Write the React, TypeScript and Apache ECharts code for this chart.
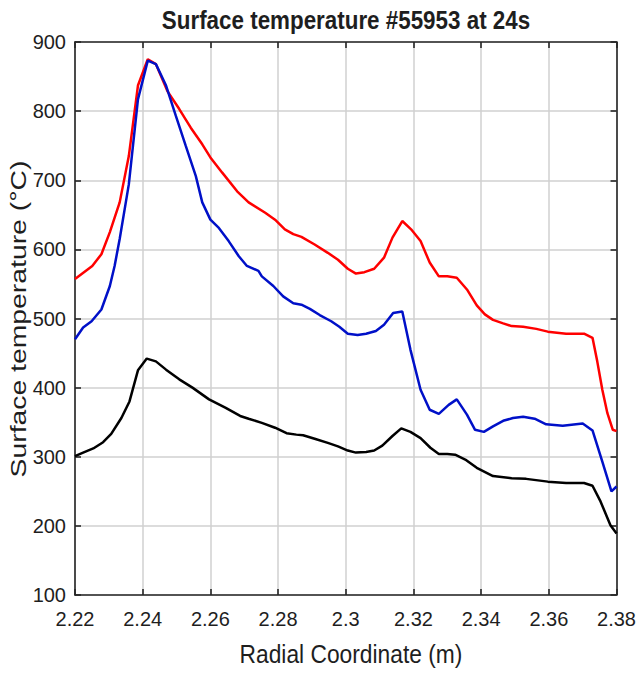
import React, { useEffect, useRef } from "react";
import * as echarts from "echarts";

const titleText = "Surface temperature #55953 at 24s";
const xAxisName = "Radial Coordinate (m)";
const yAxisName = "Surface temperature (°C)";

const redX = [2.22, 2.2251, 2.2278, 2.2303, 2.2332, 2.2359, 2.2386, 2.2415, 2.2439, 2.2473, 2.2508, 2.2542, 2.2576, 2.26, 2.2635, 2.2679, 2.2713, 2.2762, 2.2791, 2.282, 2.2845, 2.2869, 2.2908, 2.2947, 2.2977, 2.3006, 2.303, 2.3055, 2.3084, 2.3113, 2.3138, 2.3167, 2.3193, 2.3221, 2.3248, 2.3275, 2.33, 2.3328, 2.3358, 2.3387, 2.3411, 2.3435, 2.3465, 2.349, 2.3524, 2.3563, 2.3597, 2.3651, 2.3704, 2.3729, 2.3743, 2.3758, 2.3773, 2.3789, 2.38];
const redY = [557, 576, 593, 625, 668, 735, 837, 875, 868, 829, 803, 776, 752, 733, 711, 684, 668, 653, 643, 629, 622, 618, 607, 595, 585, 572, 565, 567, 572, 588, 617, 641, 629, 612, 581, 561, 561, 559, 542, 519, 506, 498, 493, 489, 488, 485, 481, 478, 478, 472, 438, 397, 363, 339, 337];

const blueX = [2.22, 2.2224, 2.2249, 2.2278, 2.2303, 2.2317, 2.2332, 2.2359, 2.2386, 2.2415, 2.2439, 2.2469, 2.2498, 2.2527, 2.2557, 2.2576, 2.26, 2.2625, 2.2654, 2.2684, 2.2708, 2.2742, 2.2752, 2.2786, 2.2815, 2.2845, 2.2869, 2.2894, 2.2923, 2.2957, 2.2981, 2.3006, 2.3035, 2.306, 2.3089, 2.3113, 2.314, 2.3167, 2.3191, 2.3221, 2.3248, 2.3275, 2.3304, 2.3328, 2.3358, 2.3382, 2.3408, 2.3435, 2.3465, 2.3494, 2.3524, 2.3558, 2.3592, 2.3641, 2.37, 2.3729, 2.3758, 2.3785, 2.38];
const blueY = [470, 487, 496, 513, 547, 576, 615, 694, 817, 873, 868, 837, 793, 750, 706, 668, 643, 631, 612, 590, 576, 569, 561, 547, 532, 522, 520, 514, 505, 496, 488, 478, 476, 478, 482, 491, 508, 510, 455, 397, 368, 362, 375, 383, 361, 339, 336, 344, 352, 356, 358, 355, 347, 345, 348, 338, 293, 250, 257];

const blackX = [2.22, 2.2224, 2.2254, 2.2283, 2.2307, 2.2337, 2.2361, 2.2386, 2.2412, 2.2439, 2.2469, 2.2508, 2.2547, 2.2596, 2.2644, 2.2688, 2.2713, 2.2752, 2.2791, 2.2825, 2.2854, 2.2874, 2.2908, 2.2947, 2.2977, 2.3006, 2.303, 2.306, 2.3084, 2.3108, 2.3138, 2.3164, 2.3191, 2.3221, 2.325, 2.3275, 2.33, 2.3323, 2.3353, 2.3387, 2.3435, 2.349, 2.3533, 2.3597, 2.3651, 2.3704, 2.3729, 2.3753, 2.3782, 2.38];
const blackY = [301, 306, 312, 321, 333, 356, 380, 425, 442, 438, 426, 412, 400, 383, 371, 359, 355, 349, 342, 334, 332, 331, 326, 320, 315, 309, 306, 307, 309, 316, 330, 341, 336, 327, 313, 304, 304, 303, 296, 284, 272, 269, 268, 264, 262, 262, 258, 235, 201, 189];

const xMin = 2.22;
const xMax = 2.38;
const xStep = 0.02;
const yMin = 100;
const yMax = 900;
const yStep = 100;

const FONT = "'Liberation Sans', Arial, Helvetica, sans-serif";
const AXIS_COLOR = "#262626";
const GRID_COLOR = "#d0d0d0";
const TEXT_COLOR = "#1e1e1e";

function zip(xs: number[], ys: number[]) {
  return xs.map((x, i) => [x, ys[i]]);
}

function label(text: string, x: number, y: number, size: number, weight: string, sx: number, sy: number, rotation = 0) {
  return {
    type: "text",
    x,
    y,
    scaleX: sx,
    scaleY: sy,
    rotation,
    silent: true,
    style: {
      text,
      fontFamily: FONT,
      fontSize: size,
      fontWeight: weight,
      fill: TEXT_COLOR,
      align: "center",
      verticalAlign: "middle",
      textAlign: "center",
      textVerticalAlign: "middle",
    },
  };
}

export default function App() {
  const ref = useRef<HTMLDivElement>(null);
  useEffect(() => {
    if (!ref.current) return;
    const chart = echarts.init(ref.current, undefined, { renderer: "svg" });
    const axisLine = { show: true, lineStyle: { color: AXIS_COLOR, width: 1.6 } };
    const axisTick = { show: true, inside: true, length: 6, lineStyle: { color: AXIS_COLOR, width: 1.6 } };
    chart.setOption({
      animation: false,
      backgroundColor: "#ffffff",
      graphic: [
        label(titleText, 346, 20, 22.4, "bold", 1, 1.17),
        label(xAxisName, 351, 654, 22.8, "normal", 1, 1.12),
        label(yAxisName, 18, 319, 22.5, "normal", 1.26, 1, Math.PI / 2),
      ],
      grid: { left: 75, right: 20, top: 42, bottom: 78, containLabel: false },
      xAxis: [
        {
          type: "value",
          min: xMin,
          max: xMax,
          interval: xStep,
          axisLine,
          axisTick,
          axisLabel: {
            fontFamily: FONT,
            fontSize: 20,
            color: TEXT_COLOR,
            margin: 14,
            formatter: (v: number) => String(+v.toFixed(2)),
          },
          splitLine: { show: true, lineStyle: { color: GRID_COLOR, width: 1.5 } },
        },
        {
          type: "value",
          position: "top",
          min: xMin,
          max: xMax,
          interval: xStep,
          axisLine,
          axisTick,
          axisLabel: { show: false },
          splitLine: { show: false },
        },
      ],
      yAxis: [
        {
          type: "value",
          min: yMin,
          max: yMax,
          interval: yStep,
          axisLine,
          axisTick,
          axisLabel: { fontFamily: FONT, fontSize: 20, color: TEXT_COLOR, margin: 9 },
          splitLine: { show: true, lineStyle: { color: GRID_COLOR, width: 1.5 } },
        },
        {
          type: "value",
          position: "right",
          min: yMin,
          max: yMax,
          interval: yStep,
          axisLine,
          axisTick,
          axisLabel: { show: false },
          splitLine: { show: false },
        },
      ],
      series: [
        {
          name: "red",
          type: "line",
          data: zip(redX, redY),
          showSymbol: false,
          lineStyle: { color: "#ff0000", width: 2.5 },
          itemStyle: { color: "#ff0000" },
        },
        {
          name: "blue",
          type: "line",
          data: zip(blueX, blueY),
          showSymbol: false,
          lineStyle: { color: "#0010c8", width: 2.5 },
          itemStyle: { color: "#0010c8" },
        },
        {
          name: "black",
          type: "line",
          data: zip(blackX, blackY),
          showSymbol: false,
          lineStyle: { color: "#000000", width: 2.5 },
          itemStyle: { color: "#000000" },
        },
      ],
    });
    return () => chart.dispose();
  }, []);
  return (
    <div
      ref={ref}
      style={{ position: "fixed", left: 0, top: 0, width: 639, height: 673, background: "#fff" }}
    />
  );
}
